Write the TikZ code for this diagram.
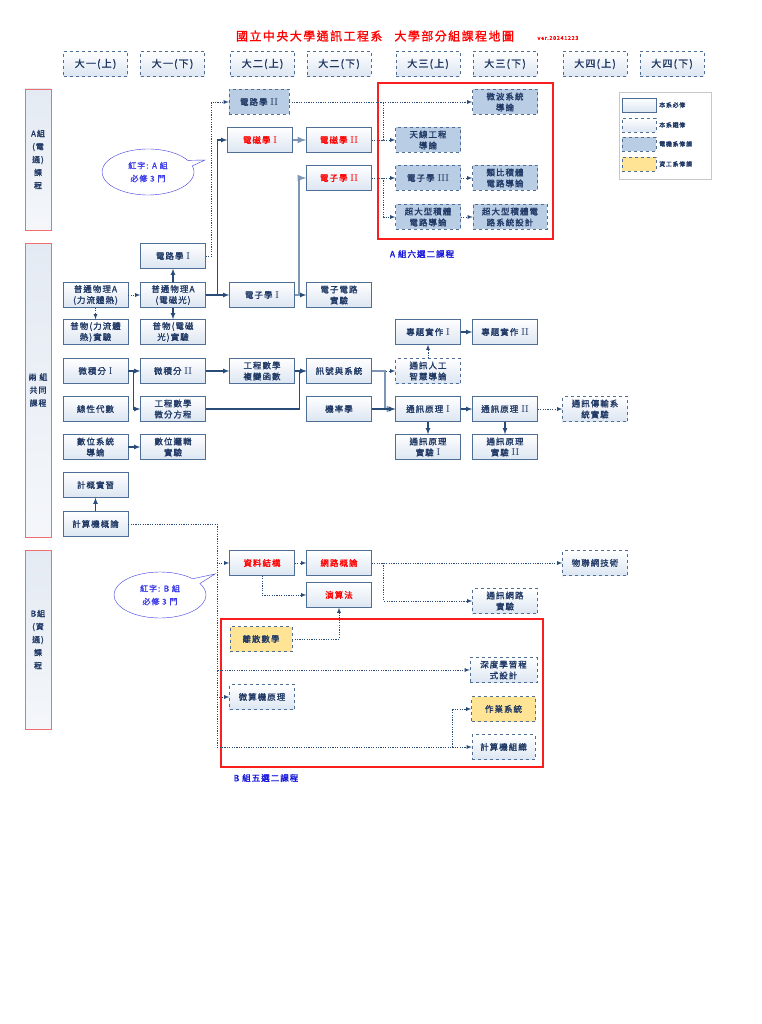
\documentclass[tikz,border=0pt]{standalone}
\usepackage{fontspec}
\newfontfamily\cjk[LetterSpace=12,FakeBold=1.2]{Noto Sans CJK TC}
\usepackage{tikz}
\usetikzlibrary{arrows,shapes,shapes.callouts}
\definecolor{ink}{RGB}{31,56,100}
\definecolor{boxline}{RGB}{79,110,150}
\definecolor{boxfill}{RGB}{220,230,242}
\definecolor{eefill}{RGB}{185,205,229}
\definecolor{csfill}{RGB}{255,228,150}
\definecolor{linkcol}{RGB}{40,75,120}
\definecolor{fatcol}{RGB}{125,150,180}
\definecolor{grpred}{RGB}{240,110,110}
\definecolor{grpfill}{RGB}{228,234,243}
\definecolor{bubline}{RGB}{60,60,230}
\definecolor{labblue}{RGB}{20,20,220}
\definecolor{legline}{RGB}{200,200,200}
\definecolor{boxred}{RGB}{250,30,30}
\newcommand{\rnum}[1]{\ {\fontsize{10}{10}\selectfont\rmfamily #1}}

\begin{document}
\begin{tikzpicture}[x=1pt,y=-1pt]
	\tikzstyle{every node}+=[font=\cjk\fontsize{8.5}{11}\selectfont, text=ink, align=center, inner sep=1pt]
	\tikzstyle{boxreq}=[draw=boxline, top color=white, bottom color=boxfill, minimum width=65, minimum height=25]
	\tikzstyle{boxopt}=[boxreq, dashed]
	\tikzstyle{boxee}=[draw=boxline, dashed, fill=eefill, minimum width=65, minimum height=25]
	\tikzstyle{boxcs}=[draw=boxline, dashed, fill=csfill, minimum width=65, minimum height=25]
	\tikzstyle{hdr}=[boxopt, minimum width=64, font=\cjk\fontsize{10}{12}\selectfont]
	\tikzstyle{grp}=[draw=grpred, line width=0.9, top color=grpfill, bottom color=white!60!grpfill, minimum width=26, font=\cjk\fontsize{8}{13}\selectfont]
	\tikzstyle{bubble}=[ellipse callout, draw=bubline, fill=white, minimum width=92, minimum height=46, text=bubline, font=\cjk\fontsize{8}{13}\selectfont]
	\tikzstyle{link}=[-latex, linkcol, line width=1.1]
	\tikzstyle{fatlink}=[-latex, fatcol, line width=2]
	\tikzstyle{dotlink}=[-latex, linkcol, line width=0.8, dash pattern=on 1.2pt off 1.2pt]
	\tikzstyle{dotline}=[linkcol, line width=0.8, dash pattern=on 1.2pt off 1.2pt]
	\tikzstyle{grpbox}=[draw=boxred, line width=1.2]
	\useasboundingbox (0,0) rectangle (761,1024);
	\fill[white] (0,0) rectangle (761,1024);
	\node[text=red, font=\cjk\fontsize{12}{14}\selectfont] (title) at (375,36) {國立中央大學通訊工程系\quad 大學部分組課程地圖};
	\node[text=red, font=\cjk\fontsize{5.5}{6}\selectfont] (ver) at (558,38) {ver.20241223};
	\foreach \x/\t [count=\i] in {95.5/大一(上),172.5/大一(下),262.5/大二(上),339/大二(下),428/大三(上),505/大三(下),595/大四(上),672/大四(下)}
		\node[hdr] (h\i) at (\x,64) {\t};
	\node[grp, minimum height=141] (ga) at (38,159.5) {A組\\(電\\通)\\課\\程};
	\node[grp, minimum height=294] (gc) at (38,390) {兩\ 組\\共同\\課程};
	\node[grp, minimum height=179] (gb) at (38,639.5) {B組\\(資\\通)\\課\\程};
	\draw[grpbox] (378,83) rectangle (553,239);
	\draw[grpbox] (221,619) rectangle (543,767);
	\node[text=labblue] (labA) at (422,254) {A 組六選二課程};
	\node[text=labblue] (labB) at (266,778) {B 組五選二課程};
	\node[bubble, callout absolute pointer={(205,160)}] (bubA) at (148,172) {紅字: A 組\\必修 3 門};
	\node[bubble, callout absolute pointer={(215,574)}] (bubB) at (160,595) {紅字: B 組\\必修 3 門};
	\node[draw=legline, minimum width=92, minimum height=87] (leg) at (665,135.5) {};
	\node[boxreq, minimum width=34, minimum height=14] (k1) at (639,105) {};
	\node[boxopt, minimum width=34, minimum height=14] (k2) at (639,125) {};
	\node[boxee, minimum width=34, minimum height=14] (k3) at (639,144) {};
	\node[boxcs, minimum width=34, minimum height=14] (k4) at (639,164) {};
	\node[anchor=west, font=\cjk\fontsize{6}{7}\selectfont] (t1) at (658,105) {本系必修};
	\node[anchor=west, font=\cjk\fontsize{6}{7}\selectfont] (t2) at (658,125) {本系選修};
	\node[anchor=west, font=\cjk\fontsize{6}{7}\selectfont] (t3) at (658,144) {電機系修課};
	\node[anchor=west, font=\cjk\fontsize{6}{7}\selectfont] (t4) at (658,164) {資工系修課};
	\node[boxee, minimum width=60] (dl2) at (259,102) {電路學\rnum{II}};
	\node[boxee] (wb) at (505,102) {微波系統\\導論};
	\node[boxreq, text=red] (dc1) at (260,140) {電磁學\rnum{I}};
	\node[boxreq, text=red] (dc2) at (339,140) {電磁學\rnum{II}};
	\node[boxee] (tx) at (428,140) {天線工程\\導論};
	\node[boxreq, text=red] (dz2) at (339,178) {電子學\rnum{II}};
	\node[boxee] (dz3) at (428,178) {電子學\rnum{III}};
	\node[boxee] (ic) at (505,178) {類比積體\\電路導論};
	\node[boxee] (vl1) at (428,217) {超大型積體\\電路導論};
	\node[boxee, minimum width=74] (vl2) at (510,217) {超大型積體電\\路系統設計};
	\node[boxreq] (dl1) at (173,256) {電路學\rnum{I}};
	\node[boxreq] (ph1) at (95.5,295) {普通物理A\\(力流體熱)};
	\node[boxreq] (ph2) at (173,295) {普通物理A\\(電磁光)};
	\node[boxreq] (dz1) at (262,295) {電子學\rnum{I}};
	\node[boxreq] (dzl) at (339,295) {電子電路\\實驗};
	\node[boxreq] (pl1) at (95.5,332) {普物(力流體\\熱)實驗};
	\node[boxreq] (pl2) at (173,332) {普物(電磁\\光)實驗};
	\node[boxreq] (pj1) at (428,332) {專題實作\rnum{I}};
	\node[boxreq] (pj2) at (505,332) {專題實作\rnum{II}};
	\node[boxreq] (ca1) at (95.5,371) {微積分\rnum{I}};
	\node[boxreq] (ca2) at (173,371) {微積分\rnum{II}};
	\node[boxreq] (em1) at (262,371) {工程數學\\複變函數};
	\node[boxreq] (ss) at (339,371) {訊號與系統};
	\node[boxopt] (ai) at (428,371) {通訊人工\\智慧導論};
	\node[boxreq] (la) at (95.5,409) {線性代數};
	\node[boxreq] (em2) at (173,409) {工程數學\\微分方程};
	\node[boxreq] (pr) at (339,409) {機率學};
	\node[boxreq] (cm1) at (428,409) {通訊原理\rnum{I}};
	\node[boxreq] (cm2) at (505,409) {通訊原理\rnum{II}};
	\node[boxopt] (tl) at (595,409) {通訊傳輸系\\統實驗};
	\node[boxreq] (cl1) at (428,447) {通訊原理\\實驗\rnum{I}};
	\node[boxreq] (cl2) at (505,447) {通訊原理\\實驗\rnum{II}};
	\node[boxreq] (dg) at (95.5,447) {數位系統\\導論};
	\node[boxreq] (dgl) at (173,447) {數位邏輯\\實驗};
	\node[boxreq] (cpl) at (95.5,485) {計概實習};
	\node[boxreq] (cp) at (95.5,524) {計算機概論};
	\node[boxreq, text=red] (dst) at (262,563) {資料結構};
	\node[boxreq, text=red] (nt) at (339,563) {網路概論};
	\node[boxreq, text=red] (alg) at (339,595) {演算法};
	\node[boxopt] (iot) at (595,563) {物聯網技術};
	\node[boxopt] (ntl) at (505,601) {通訊網路\\實驗};
	\node[boxcs, minimum width=62] (dm) at (261,639) {離散數學};
	\node[boxopt, minimum width=67] (dp) at (503.5,670) {深度學習程\\式設計};
	\node[boxopt] (mc) at (262,697) {微算機原理};
	\node[boxcs, minimum width=64] (os) at (503.5,709) {作業系統};
	\node[boxopt, minimum width=63] (co) at (503.5,747) {計算機組織};
	\draw[dotlink] (dl1.east) -- ++(6,0) |- (dl2.west);
	\draw[dotlink] (dl2.east) -- (wb.west);
	\draw[dotline] (dc2.east) -- ++(12,0) -- ++(0,-38);
	\draw[dotlink] (dc2.east) -- (tx.west);
	\draw[dotlink] (dz2.east) -- (dz3.west);
	\draw[dotlink] (dz2.east) -- ++(12,0) |- (vl1.west);
	\draw[dotlink] (dz3.east) -- (ic.west);
	\draw[dotlink] (vl1.east) -- (vl2.west);
	\draw[link] (ph2.east) -- (dz1.west);
	\draw[link] (ph2.east) -- ++(12,0) |- (dc1.west);
	\draw[fatlink] (dc1.east) -- (dc2.west);
	\draw[link] (dz1.east) -- (dzl.west);
	\draw[fatlink] (dz1.east) -- ++(4,0) |- (dz2.west);
	\draw[link] (ph2.north) -- (dl1.south);
	\draw[link] (ph2.south) -- (pl2.north);
	\draw[dotlink] (ph1.east) -- (ph2.west);
	\draw[dotlink] (ph1.south) -- (pl1.north);
	\draw[link] (ca1.east) -- (ca2.west);
	\draw[link] (ca1.east) -- ++(5,0) |- (em2.west);
	\draw[link] (ca2.east) -- (em1.west);
	\draw[link] (em1.east) -- (ss.west);
	\draw[link] (em2.east) -- ++(94,0) |- (ss.west);
	\draw[dotlink] (ss.east) -- (ai.west);
	\draw[fatlink] (ss.east) -- ++(13,0) |- (cm1.west);
	\draw[link] (pr.east) -- (cm1.west);
	\draw[dotlink] (ai.north) -- (pj1.south);
	\draw[link] (pj1.east) -- (pj2.west);
	\draw[link] (cm1.east) -- (cm2.west);
	\draw[dotlink] (cm2.east) -- (tl.west);
	\draw[link] (cm1.south) -- (cl1.north);
	\draw[link] (cm2.south) -- (cl2.north);
	\draw[link] (dg.east) -- (dgl.west);
	\draw[link] (cp.north) -- (cpl.south);
	\coordinate (bus) at (217,524);
	\coordinate (osb) at (452,747);
	\draw[dotlink] (cp.east) -- (bus) |- (dst.west);
	\draw[dotlink] (bus) |- (dp.west);
	\draw[dotlink] (bus) |- (mc.west);
	\draw[dotlink] (bus) |- (co.west);
	\draw[dotlink] (osb) |- (os.west);
	\draw[dotlink] (dst.east) -- (nt.west);
	\draw[dotlink] (dst.south) |- (alg.west);
	\draw[dotlink] (nt.east) -- (iot.west);
	\draw[dotlink] (nt.east) -- ++(12,0) |- (ntl.west);
	\draw[dotlink] (dm.east) -| (alg.south);
\end{tikzpicture}
\end{document}
